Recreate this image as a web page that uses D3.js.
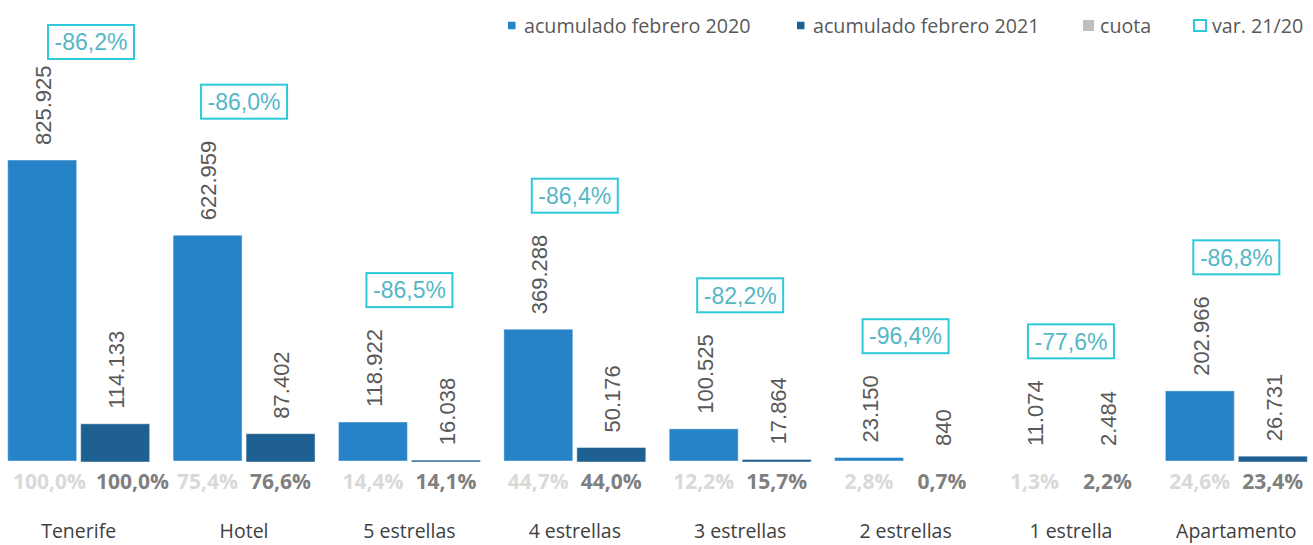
<!DOCTYPE html>
<html>
<head>
<meta charset="utf-8">
<script src="https://cdn.jsdelivr.net/npm/d3@7"></script>
<style>
  html, body { margin: 0; padding: 0; background: #ffffff; }
  svg { display: block; }
</style>
</head>
<body>
<svg id="chart" width="1313" height="545"></svg>
<script>
// ---- data ----
const categories = ["Tenerife", "Hotel", "5 estrellas", "4 estrellas", "3 estrellas", "2 estrellas", "1 estrella", "Apartamento"];
const seriesNames = ["acumulado febrero 2020", "acumulado febrero 2021"];
const values2020 = [825925, 622959, 118922, 369288, 100525, 23150, 11074, 202966];
const values2021 = [114133, 87402, 16038, 50176, 17864, 840, 2484, 26731];
const cuota2020 = [100.0, 75.4, 14.4, 44.7, 12.2, 2.8, 1.3, 24.6];
const cuota2021 = [100.0, 76.6, 14.1, 44.0, 15.7, 0.7, 2.2, 23.4];
const var2120 = [-86.2, -86.0, -86.5, -86.4, -82.2, -96.4, -77.6, -86.8];
const legendLabels = ["acumulado febrero 2020", "acumulado febrero 2021", "cuota", "var. 21/20"];

// ---- styles ----
const C2020 = "#2783C8", C2021 = "#1F6093";
const CUOTA_LIGHT = "#D9D9D9", CUOTA_DARK = "#7F7F7F";
const VAR_TEXT = "#55B7C6", VAR_BOX = "#2CCAD8";
const TEXT = "#595959";

const loc = d3.formatLocale({decimal: ",", thousands: ".", grouping: [3], currency: ["", "€"], minus: "-"});
const fmtInt = loc.format(",d");
const fmtPct = v => loc.format(".1f")(v) + "%";

const svg = d3.select("#chart");
const baseY = 461;
const yMin = 13700;

const x0 = d3.scaleBand().domain(categories).range([-4, 1319]).paddingInner(0.1415).paddingOuter(0.0707);
const x1 = d3.scaleBand().domain(seriesNames).range([0, x0.bandwidth()]).paddingInner(0.055).paddingOuter(0);
const y = d3.scaleLinear().domain([yMin, 1257600]).range([baseY, 0]).clamp(true);

const rows = categories.map((c, i) => ({
  cat: c,
  vals: [values2020[i], values2021[i]],
  cuota: [cuota2020[i], cuota2021[i]],
  v: var2120[i]
}));

const g = svg.append("g");
const groups = g.selectAll("g.cat").data(rows).join("g")
  .attr("class", "cat")
  .attr("transform", d => `translate(${x0(d.cat)},0)`);

// bars (values under the axis minimum draw nothing)
groups.selectAll("rect").data(d => d.vals.map((v, j) => ({v, s: seriesNames[j], j})).filter(d => d.v > yMin)).join("rect")
  .attr("x", d => x1(d.s))
  .attr("width", x1.bandwidth())
  .attr("y", d => y(d.v))
  .attr("height", d => baseY - y(d.v) + (d.j === 1 ? 1 : 0))
  .attr("fill", d => d.j === 0 ? C2020 : C2021)
  .attr("stroke", "rgba(255,255,255,0.45)")
  .attr("stroke-width", 1);

// rotated value labels
const valueLabels = groups.selectAll("text.val").data(d => d.vals.map((v, j) => ({v, s: seriesNames[j], j}))).join("text")
  .attr("class", "val")
  .attr("transform", d => `translate(${x1(d.s) + x1.bandwidth() / 2 + 1},${y(d.v) - 15}) rotate(-90)`)
  .attr("dy", "0.36em")
  .attr("text-anchor", "start")
  .attr("font-family", "'Liberation Sans', Arial, sans-serif")
  .attr("font-size", 22)
  .attr("fill", TEXT)
  .text(d => fmtInt(d.v));

// cuota labels (centred under bars, nudged apart when they would collide)
groups.each(function(d) {
  const grp = d3.select(this);
  const gx = x0(d.cat);
  const texts = d.cuota.map((v, j) => grp.append("text")
    .attr("class", "cuota")
    .attr("y", 481)
    .attr("dy", "0.36em")
    .attr("text-anchor", "start")
    .attr("font-family", "'Open Sans', sans-serif")
    .attr("font-weight", "bold")
    .attr("font-size", 21)
    .attr("fill", j === 0 ? CUOTA_LIGHT : CUOTA_DARK)
    .text(fmtPct(v)));
  const w = texts.map(t => t.node().getComputedTextLength());
  let left0 = gx + x1(seriesNames[0]) + x1.bandwidth() / 2 - w[0] / 2;
  let left1 = gx + x1(seriesNames[1]) + x1.bandwidth() / 2 - w[1] / 2;
  left0 = Math.max(13, left0);
  left1 = Math.max(left0 + w[0] + 10, left1);
  texts[0].attr("x", left0 - gx);
  texts[1].attr("x", left1 - gx);
});

// category labels
groups.append("text")
  .attr("x", x0.bandwidth() / 2)
  .attr("y", 531)
  .attr("dy", "0.36em")
  .attr("text-anchor", "middle")
  .attr("font-family", "'Open Sans', sans-serif")
  .attr("font-size", 19.5)
  .attr("fill", "#404040")
  .text(d => d.cat);

// variation boxes (placed above the 2020 value label)
const boxW = 86, boxH = 34;
groups.each(function(d, i) {
  const grp = d3.select(this);
  const lbl = valueLabels.filter(function(e) { return this.parentNode === grp.node() && e.j === 0; });
  const len = lbl.node().getComputedTextLength();
  const labelTop = y(d.vals[0]) - 15 - len;
  let top = Math.max(25, labelTop - 22 - boxH);
  let cx = Math.max(91, x0(d.cat) + x0.bandwidth() / 2) - x0(d.cat);
  const vg = grp.append("g").attr("class", "var");
  vg.append("rect")
    .attr("x", cx - boxW / 2).attr("y", top)
    .attr("width", boxW).attr("height", boxH)
    .attr("fill", "#ffffff")
    .attr("stroke", VAR_BOX).attr("stroke-width", 2);
  vg.append("text")
    .attr("x", cx).attr("y", top + boxH / 2)
    .attr("dy", "0.36em")
    .attr("text-anchor", "middle")
    .attr("font-family", "'Liberation Sans', Arial, sans-serif")
    .attr("font-size", 23)
    .attr("fill", VAR_TEXT)
    .text(fmtPct(d.v));
});

// legend
const legendItems = [
  {label: legendLabels[0], mx: 508, ms: 7.5, fill: C2020, stroke: "none", tx: 524},
  {label: legendLabels[1], mx: 797, ms: 7.5, fill: C2021, stroke: "none", tx: 813},
  {label: legendLabels[2], mx: 1083, ms: 11, fill: "#BFBFBF", stroke: "none", tx: 1100},
  {label: legendLabels[3], mx: 1194, ms: 11, fill: "#ffffff", stroke: VAR_BOX, tx: 1212}
];
const lg = svg.append("g").attr("class", "legend");
const ly = 25.5;
lg.selectAll("rect").data(legendItems).join("rect")
  .attr("x", d => d.mx)
  .attr("y", d => ly - d.ms / 2)
  .attr("width", d => d.stroke === "none" ? d.ms : d.ms + 1)
  .attr("height", d => d.ms)
  .attr("fill", d => d.fill)
  .attr("stroke", d => d.stroke)
  .attr("stroke-width", 2);
lg.selectAll("text").data(legendItems).join("text")
  .attr("x", d => d.tx)
  .attr("y", ly)
  .attr("dy", "0.36em")
  .attr("font-family", "'Open Sans', sans-serif")
  .attr("font-size", 19.7)
  .attr("fill", TEXT)
  .text(d => d.label);
</script>
</body>
</html>
